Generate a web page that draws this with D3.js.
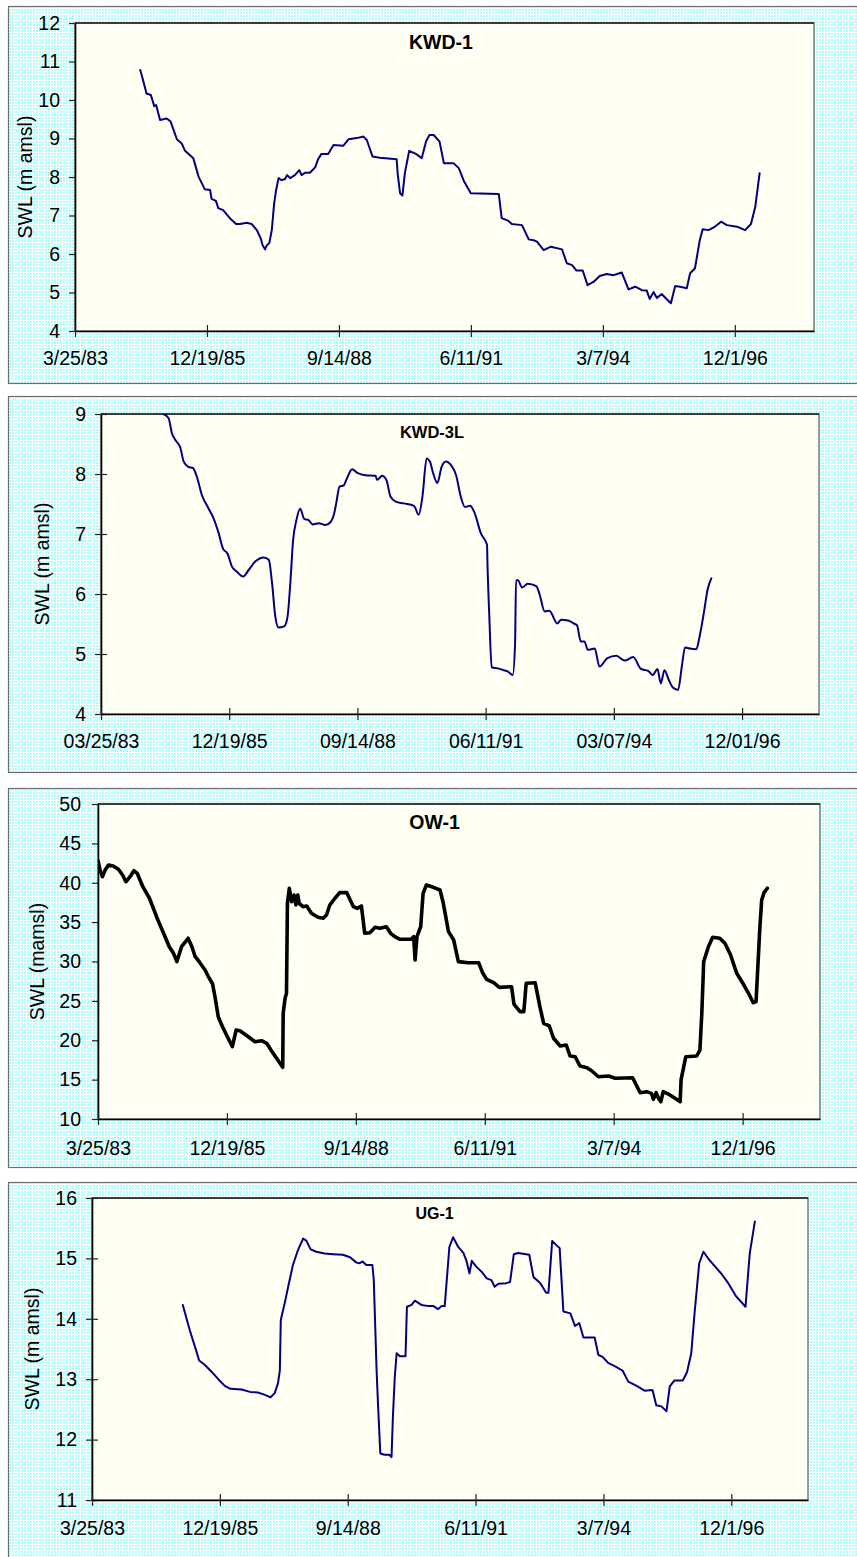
<!DOCTYPE html>
<html>
<head>
<meta charset="utf-8">
<script src="https://cdn.jsdelivr.net/npm/d3@7"></script>
<style>
  html, body { margin: 0; padding: 0; background: #ffffff; }
  svg { display: block; }
  text { font-family: "Liberation Sans", Arial, Helvetica, sans-serif; fill: #000; }
</style>
</head>
<body>
<svg id="chart" width="857" height="1557"></svg>
<script>
// ---- Static water level hydrographs, four monitoring wells ----
// Dates are decimal years, levels are SWL in metres above mean sea level.

const axisStart = "3/25/83";
const axisEnd = "7/24/98";
const xTicksShort = ["3/25/83", "12/19/85", "9/14/88", "6/11/91", "3/7/94", "12/1/96"];
const xTicksPadded = ["03/25/83", "12/19/85", "09/14/88", "06/11/91", "03/07/94", "12/01/96"];

const kwd1YTicks = [4, 5, 6, 7, 8, 9, 10, 11, 12];
const kwd3lYTicks = [4, 5, 6, 7, 8, 9];
const ow1YTicks = [10, 15, 20, 25, 30, 35, 40, 45, 50];
const ug1YTicks = [11, 12, 13, 14, 15, 16];

// KWD-1
const kwd1Years = [1984.58, 1984.63, 1984.71, 1984.80, 1984.87, 1984.91, 1984.99, 1985.13, 1985.21, 1985.34,
  1985.44, 1985.51, 1985.68, 1985.79, 1985.92, 1986.03, 1986.06, 1986.15, 1986.20, 1986.30,
  1986.44, 1986.57, 1986.65, 1986.79, 1986.89, 1987.00, 1987.08, 1987.12, 1987.17, 1987.20,
  1987.26, 1987.31, 1987.36, 1987.40, 1987.45, 1987.51, 1987.58, 1987.63, 1987.69, 1987.79,
  1987.88, 1987.93, 1988.00, 1988.10, 1988.21, 1988.27, 1988.34, 1988.48, 1988.59, 1988.79,
  1988.90, 1989.07, 1989.21, 1989.28, 1989.40, 1989.55, 1989.90, 1989.92, 1989.97, 1990.02,
  1990.07, 1990.16, 1990.30, 1990.42, 1990.51, 1990.58, 1990.67, 1990.79, 1990.88, 1991.08,
  1991.19, 1991.30, 1991.44, 1992.02, 1992.08, 1992.22, 1992.29, 1992.50, 1992.64, 1992.74,
  1992.81, 1992.95, 1993.10, 1993.33, 1993.43, 1993.54, 1993.63, 1993.76, 1993.86, 1993.99,
  1994.11, 1994.26, 1994.40, 1994.57, 1994.71, 1994.85, 1994.99, 1995.09, 1995.15, 1995.23,
  1995.30, 1995.40, 1995.51, 1995.59, 1995.68, 1995.78, 1995.92, 1995.99, 1996.09, 1996.19,
  1996.25, 1996.37, 1996.48, 1996.63, 1996.75, 1996.96, 1997.13, 1997.25, 1997.34, 1997.43];
const kwd1Swl = [10.78, 10.56, 10.17, 10.13, 9.84, 9.87, 9.48, 9.52, 9.44, 8.98,
  8.87, 8.68, 8.49, 8.01, 7.68, 7.66, 7.43, 7.38, 7.19, 7.14,
  6.93, 6.78, 6.78, 6.81, 6.78, 6.62, 6.41, 6.23, 6.12, 6.21,
  6.29, 6.62, 7.32, 7.66, 7.97, 7.92, 7.94, 8.05, 7.97, 8.05,
  8.18, 8.05, 8.11, 8.11, 8.25, 8.46, 8.60, 8.60, 8.83, 8.81,
  8.98, 9.01, 9.05, 8.96, 8.53, 8.50, 8.46, 8.10, 7.58, 7.52,
  8.10, 8.68, 8.60, 8.49, 8.92, 9.09, 9.09, 8.92, 8.36, 8.36,
  8.23, 7.88, 7.58, 7.56, 6.93, 6.86, 6.78, 6.75, 6.38, 6.36,
  6.32, 6.10, 6.19, 6.12, 5.76, 5.71, 5.57, 5.57, 5.19, 5.28,
  5.43, 5.48, 5.45, 5.52, 5.08, 5.15, 5.06, 5.05, 4.83, 5.01,
  4.86, 4.96, 4.82, 4.72, 5.17, 5.15, 5.11, 5.50, 5.63, 6.36,
  6.64, 6.62, 6.69, 6.84, 6.75, 6.71, 6.62, 6.78, 7.23, 8.10];

// KWD-3L
const kwd3lYears = [1984.56, 1984.67, 1984.74, 1984.81, 1984.92, 1984.99, 1985.09, 1985.19, 1985.27, 1985.38,
  1985.52, 1985.63, 1985.74, 1985.83, 1985.93, 1986.02, 1986.13, 1986.26, 1986.38, 1986.52,
  1986.70, 1986.81, 1986.88, 1986.95, 1987.02, 1987.14, 1987.21, 1987.27, 1987.33, 1987.40,
  1987.48, 1987.57, 1987.66, 1987.75, 1987.88, 1988.02, 1988.13, 1988.20, 1988.25, 1988.32,
  1988.41, 1988.48, 1988.59, 1988.70, 1988.87, 1989.09, 1989.12, 1989.23, 1989.32, 1989.41,
  1989.52, 1989.69, 1989.91, 1990.01, 1990.09, 1990.18, 1990.25, 1990.31, 1990.41, 1990.50,
  1990.59, 1990.70, 1990.81, 1990.91, 1991.00, 1991.11, 1991.20, 1991.34, 1991.47, 1991.48,
  1991.52, 1991.57, 1991.70, 1991.83, 1991.91, 1992.02, 1992.07, 1992.09, 1992.13, 1992.22,
  1992.34, 1992.52, 1992.59, 1992.70, 1992.80, 1992.97, 1993.05, 1993.20, 1993.34, 1993.39,
  1993.47, 1993.55, 1993.62, 1993.77, 1993.87, 1994.04, 1994.23, 1994.41, 1994.59, 1994.76,
  1994.91, 1995.01, 1995.11, 1995.18, 1995.26, 1995.35, 1995.44, 1995.55, 1995.63, 1995.70,
  1995.80, 1995.94, 1996.01, 1996.10, 1996.18, 1996.26];
const kwd3lSwl = [9.00, 8.93, 8.68, 8.57, 8.44, 8.21, 8.12, 8.10, 7.96, 7.65,
  7.43, 7.26, 7.01, 6.76, 6.67, 6.46, 6.37, 6.29, 6.40, 6.54,
  6.61, 6.57, 6.18, 5.62, 5.44, 5.46, 5.62, 6.18, 6.90, 7.23,
  7.42, 7.25, 7.23, 7.16, 7.18, 7.15, 7.20, 7.32, 7.51, 7.79,
  7.81, 7.93, 8.08, 8.02, 7.98, 7.97, 7.90, 7.97, 7.90, 7.62,
  7.54, 7.51, 7.47, 7.32, 7.62, 8.26, 8.21, 8.04, 7.85, 8.12,
  8.21, 8.15, 7.98, 7.62, 7.45, 7.47, 7.36, 7.01, 6.82, 6.51,
  5.62, 4.78, 4.76, 4.73, 4.71, 4.65, 5.18, 6.23, 6.23, 6.11,
  6.17, 6.13, 6.00, 5.71, 5.72, 5.51, 5.57, 5.56, 5.50, 5.48,
  5.21, 5.21, 5.07, 5.09, 4.79, 4.93, 4.97, 4.89, 4.95, 4.75,
  4.72, 4.65, 4.75, 4.51, 4.73, 4.57, 4.44, 4.40, 4.79, 5.11,
  5.09, 5.08, 5.29, 5.68, 6.07, 6.26];

// OW-1
const ow1Years = [1983.23, 1983.27, 1983.32, 1983.38, 1983.45, 1983.55, 1983.66, 1983.75, 1983.82, 1983.91,
  1983.99, 1984.06, 1984.18, 1984.32, 1984.47, 1984.65, 1984.74, 1984.83, 1984.90, 1985.00,
  1985.14, 1985.22, 1985.29, 1985.39, 1985.50, 1985.57, 1985.66, 1985.71, 1985.78, 1985.87,
  1985.98, 1986.08, 1986.16, 1986.24, 1986.42, 1986.56, 1986.70, 1986.81, 1986.91, 1987.02,
  1987.15, 1987.16, 1987.20, 1987.23, 1987.25, 1987.29, 1987.34, 1987.39, 1987.43, 1987.47,
  1987.50, 1987.58, 1987.66, 1987.76, 1987.90, 1988.01, 1988.08, 1988.15, 1988.26, 1988.36,
  1988.51, 1988.65, 1988.73, 1988.82, 1988.89, 1989.00, 1989.11, 1989.21, 1989.35, 1989.44,
  1989.53, 1989.64, 1989.88, 1989.93, 1989.96, 1990.00, 1990.08, 1990.13, 1990.20, 1990.35,
  1990.49, 1990.56, 1990.67, 1990.78, 1990.88, 1991.09, 1991.31, 1991.40, 1991.48, 1991.63,
  1991.75, 1992.01, 1992.06, 1992.19, 1992.27, 1992.32, 1992.51, 1992.61, 1992.69, 1992.81,
  1992.90, 1993.04, 1993.17, 1993.25, 1993.36, 1993.46, 1993.61, 1993.71, 1993.85, 1994.07,
  1994.21, 1994.58, 1994.74, 1994.88, 1994.98, 1995.02, 1995.08, 1995.13, 1995.18, 1995.23,
  1995.34, 1995.48, 1995.59, 1995.61, 1995.71, 1995.94, 1996.01, 1996.05, 1996.09, 1996.19,
  1996.28, 1996.43, 1996.54, 1996.66, 1996.79, 1996.93, 1997.04, 1997.14, 1997.20, 1997.28,
  1997.32, 1997.37, 1997.44];
const ow1Swl = [42.76, 41.62, 40.77, 41.62, 42.25, 42.13, 41.71, 40.98, 40.13, 40.77,
  41.53, 41.20, 39.50, 38.03, 35.69, 33.15, 31.88, 31.04, 29.98, 31.88,
  32.95, 31.88, 30.61, 29.85, 28.92, 28.07, 27.14, 25.53, 22.99, 21.72,
  20.37, 19.18, 21.30, 21.21, 20.45, 19.81, 19.94, 19.61, 18.67, 17.71,
  16.56, 23.42, 25.33, 25.96, 37.39, 39.30, 37.59, 38.44, 37.17, 38.44,
  37.39, 36.96, 37.05, 36.12, 35.61, 35.49, 35.90, 37.17, 38.03, 38.74,
  38.74, 36.96, 36.75, 37.05, 33.58, 33.66, 34.34, 34.21, 34.42, 33.58,
  33.15, 32.82, 32.82, 33.15, 30.19, 33.15, 34.42, 38.66, 39.71, 39.42,
  39.08, 37.39, 33.79, 32.73, 29.98, 29.85, 29.85, 28.50, 27.74, 27.31,
  26.72, 26.80, 24.60, 23.63, 23.63, 27.23, 27.31, 24.26, 22.15, 21.81,
  20.25, 19.27, 19.40, 18.00, 17.91, 16.73, 16.51, 16.13, 15.37, 15.46,
  15.17, 15.24, 13.34, 13.47, 13.26, 12.50, 13.34, 12.63, 12.20, 13.47,
  13.17, 12.63, 12.20, 15.00, 17.91, 18.00, 18.76, 23.42, 29.98, 31.88,
  33.07, 32.95, 32.31, 30.83, 28.50, 27.14, 25.96, 24.77, 24.90, 34.21,
  37.81, 38.74, 39.30];

// UG-1
const ug1Years = [1985.17, 1985.32, 1985.47, 1985.52, 1985.64, 1985.79, 1985.93, 1986.07, 1986.19, 1986.43,
  1986.61, 1986.78, 1986.93, 1987.05, 1987.14, 1987.21, 1987.25, 1987.27, 1987.36, 1987.45,
  1987.53, 1987.64, 1987.75, 1987.82, 1987.91, 1988.03, 1988.21, 1988.39, 1988.60, 1988.75,
  1988.89, 1988.96, 1989.02, 1989.10, 1989.23, 1989.26, 1989.32, 1989.35, 1989.40, 1989.49,
  1989.59, 1989.64, 1989.67, 1989.71, 1989.75, 1989.82, 1989.94, 1989.97, 1990.07, 1990.14,
  1990.28, 1990.44, 1990.54, 1990.64, 1990.71, 1990.78, 1990.88, 1990.96, 1991.07, 1991.18,
  1991.25, 1991.31, 1991.36, 1991.46, 1991.57, 1991.68, 1991.78, 1991.85, 1991.93, 1992.10,
  1992.18, 1992.26, 1992.35, 1992.59, 1992.68, 1992.80, 1992.85, 1992.95, 1993.00, 1993.08,
  1993.17, 1993.24, 1993.32, 1993.47, 1993.57, 1993.66, 1993.75, 1993.99, 1994.07, 1994.16,
  1994.28, 1994.46, 1994.59, 1994.71, 1994.89, 1995.06, 1995.23, 1995.31, 1995.42, 1995.53,
  1995.60, 1995.70, 1995.88, 1995.97, 1996.06, 1996.13, 1996.23, 1996.32, 1996.45, 1996.70,
  1996.85, 1997.02, 1997.22, 1997.31, 1997.42];
const ug1Swl = [14.23, 13.81, 13.44, 13.31, 13.24, 13.12, 13.00, 12.89, 12.84, 12.83,
  12.79, 12.78, 12.74, 12.70, 12.77, 12.93, 13.15, 13.98, 14.28, 14.61,
  14.89, 15.14, 15.33, 15.29, 15.15, 15.11, 15.08, 15.07, 15.06, 15.02,
  14.93, 14.92, 14.95, 14.89, 14.89, 14.64, 13.15, 12.60, 11.77, 11.75,
  11.75, 11.71, 12.38, 13.04, 13.43, 13.38, 13.38, 14.20, 14.23, 14.30,
  14.23, 14.21, 14.21, 14.16, 14.21, 14.21, 15.19, 15.35, 15.19, 15.09,
  14.95, 14.75, 14.96, 14.86, 14.78, 14.67, 14.64, 14.53, 14.58, 14.59,
  14.61, 15.07, 15.09, 15.06, 14.69, 14.61, 14.56, 14.43, 14.43, 15.29,
  15.22, 15.17, 14.12, 14.09, 13.88, 13.93, 13.69, 13.69, 13.40, 13.37,
  13.27, 13.20, 13.14, 12.96, 12.89, 12.81, 12.82, 12.57, 12.55, 12.47,
  12.88, 12.98, 12.98, 13.12, 13.43, 14.09, 14.92, 15.11, 14.97, 14.75,
  14.59, 14.37, 14.20, 15.08, 15.61];

// ---- helpers ----
const parseTick = d3.utcParse("%m/%d/%y");

function fromDecimalYear(y) {
  const yr = Math.floor(y);
  const start = Date.UTC(yr, 0, 1);
  const end = Date.UTC(yr + 1, 0, 1);
  return new Date(start + (y - yr) * (end - start));
}

// ---- panel layout ----
const panels = [
  { title: "KWD-1", yLabel: "SWL (m amsl)", years: kwd1Years, swl: kwd1Swl,
    yTicks: kwd1YTicks, xTicks: xTicksShort, color: "#000080", lineWidth: 2,
    curve: d3.curveLinear,
    box: { top: 6, bottom: 383 }, plot: { l: 75, t: 23, r: 814, b: 331 },
    titleX: 441, titleY: 49, titleSize: 19.5, yLabelX: 25,
    yTickInner: 0, yPad: 9, xPad: 14 },
  { title: "KWD-3L", yLabel: "SWL (m amsl)", years: kwd3lYears, swl: kwd3lSwl,
    yTicks: kwd3lYTicks, xTicks: xTicksPadded, color: "#000080", lineWidth: 2,
    curve: d3.curveMonotoneX,
    box: { top: 396, bottom: 772 }, plot: { l: 101, t: 414, r: 819, b: 714 },
    titleX: 432, titleY: 438, titleSize: 16.5, yLabelX: 42,
    yTickInner: 6, yPad: 9, xPad: 14 },
  { title: "OW-1", yLabel: "SWL (mamsl)", years: ow1Years, swl: ow1Swl,
    yTicks: ow1YTicks, xTicks: xTicksShort, color: "#000000", lineWidth: 3.6,
    curve: d3.curveLinear,
    box: { top: 788, bottom: 1167 }, plot: { l: 98, t: 804, r: 820, b: 1119 },
    titleX: 434.5, titleY: 829, titleSize: 19.5, yLabelX: 37,
    yTickInner: 0, yPad: 11, xPad: 16 },
  { title: "UG-1", yLabel: "SWL (m amsl)", years: ug1Years, swl: ug1Swl,
    yTicks: ug1YTicks, xTicks: xTicksShort, color: "#000080", lineWidth: 2,
    curve: d3.curveLinear,
    box: { top: 1182, bottom: 1575 }, plot: { l: 92, t: 1198, r: 808, b: 1500 },
    titleX: 434.5, titleY: 1219, titleSize: 16, yLabelX: 32,
    yTickInner: 6, yPad: 9, xPad: 15 }
];

const svg = d3.select("#chart");
const defs = svg.append("defs");

// light cyan dotted fill for the chart areas
const dots = defs.append("pattern")
  .attr("id", "dots").attr("patternUnits", "userSpaceOnUse")
  .attr("width", 3).attr("height", 3);
dots.append("rect").attr("width", 3).attr("height", 3).attr("fill", "#ffffff");
dots.append("rect").attr("width", 2).attr("height", 2).attr("fill", "#aefcfc")
  .attr("shape-rendering", "crispEdges");

const FS = 19.5;

panels.forEach((p, i) => {
  const g = svg.append("g");

  // chart area frame
  g.append("rect")
    .attr("x", 8.5).attr("y", p.box.top + 0.5)
    .attr("width", 870).attr("height", p.box.bottom - p.box.top)
    .attr("fill", "url(#dots)")
    .attr("stroke", "#6e6e6e").attr("stroke-width", 1.2);

  // plot area
  g.append("rect")
    .attr("x", p.plot.l).attr("y", p.plot.t)
    .attr("width", p.plot.r - p.plot.l).attr("height", p.plot.b - p.plot.t)
    .attr("fill", "#fffff3")
    .attr("stroke", "#7a7a7a").attr("stroke-width", 1.5);
  // dark upper edge of the plot area
  g.append("line")
    .attr("x1", p.plot.l).attr("x2", p.plot.r)
    .attr("y1", p.plot.t).attr("y2", p.plot.t)
    .attr("stroke", "#1e1e1e").attr("stroke-width", 1.5);

  const x = d3.scaleUtc()
    .domain([parseTick(axisStart), parseTick(axisEnd)])
    .range([p.plot.l, p.plot.r]);
  const y = d3.scaleLinear()
    .domain(d3.extent(p.yTicks))
    .range([p.plot.b, p.plot.t]);

  // series
  const clipId = "clip" + i;
  defs.append("clipPath").attr("id", clipId)
    .append("rect")
    .attr("x", p.plot.l).attr("y", p.plot.t)
    .attr("width", p.plot.r - p.plot.l).attr("height", p.plot.b - p.plot.t);

  const pts = p.years.map((yr, k) => ({ date: fromDecimalYear(yr), v: p.swl[k] }));
  const line = d3.line()
    .x(d => x(d.date))
    .y(d => y(d.v))
    .curve(p.curve);

  g.append("path")
    .datum(pts)
    .attr("clip-path", `url(#${clipId})`)
    .attr("d", line)
    .attr("fill", "none")
    .attr("stroke", p.color)
    .attr("stroke-width", p.lineWidth)
    .attr("stroke-linejoin", "round")
    .attr("stroke-linecap", "round");

  // y axis
  const yAxis = g.append("g")
    .attr("transform", `translate(${p.plot.l},0)`)
    .call(d3.axisLeft(y).tickValues(p.yTicks).tickSize(6).tickSizeOuter(0)
      .tickPadding(p.yPad).tickFormat(d3.format("d")));
  yAxis.selectAll(".tick line").attr("x1", p.yTickInner)
    .attr("stroke", "#222").attr("stroke-width", 1.2);
  yAxis.select(".domain").attr("stroke", "#000").attr("stroke-width", 1.6);
  yAxis.selectAll("text").attr("font-size", FS)
    .attr("font-family", '"Liberation Sans", Arial, sans-serif').attr("fill", "#000");

  // x axis
  const tickDates = p.xTicks.map(parseTick);
  const xAxis = g.append("g")
    .attr("transform", `translate(0,${p.plot.b})`)
    .call(d3.axisBottom(x).tickValues(tickDates).tickSize(6).tickSizeOuter(0)
      .tickPadding(p.xPad).tickFormat((d, k) => p.xTicks[k]));
  xAxis.selectAll(".tick line").attr("y1", -6)
    .attr("stroke", "#222").attr("stroke-width", 1.2);
  xAxis.select(".domain").attr("stroke", "#000").attr("stroke-width", 1.6);
  xAxis.selectAll("text").attr("font-size", FS)
    .attr("font-family", '"Liberation Sans", Arial, sans-serif').attr("fill", "#000");

  // title
  g.append("text")
    .attr("x", p.titleX).attr("y", p.titleY)
    .attr("text-anchor", "middle")
    .attr("font-weight", "bold")
    .attr("font-size", p.titleSize)
    .text(p.title);

  // y axis title
  const cy = (p.plot.t + p.plot.b) / 2;
  g.append("text")
    .attr("transform", `translate(${p.yLabelX},${cy}) rotate(-90)`)
    .attr("text-anchor", "middle")
    .attr("dominant-baseline", "central")
    .attr("font-size", FS)
    .text(p.yLabel);
});
</script>
</body>
</html>
